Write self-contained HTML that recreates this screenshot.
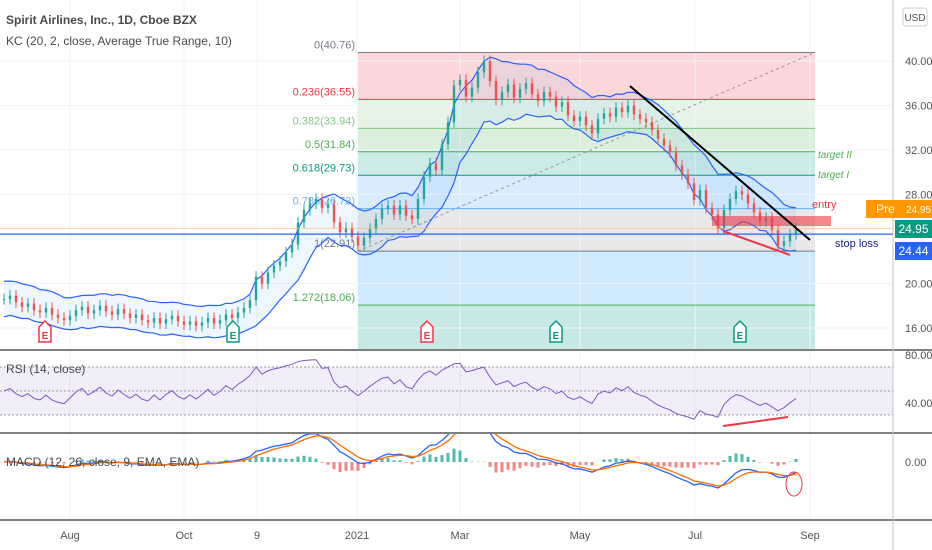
<!DOCTYPE html>
<html><head><meta charset="utf-8"><style>
body{margin:0;background:#fff;font-family:"Liberation Sans",sans-serif;}
svg{display:block}
</style></head><body>
<svg id="c" width="932" height="550" viewBox="0 0 932 550" font-family="Liberation Sans, sans-serif"></svg>
<script>
const closes=[18.6,18.9,18.3,17.9,18.2,17.6,17.4,17.8,17.2,16.9,
16.7,17.1,17.6,17.9,17.3,17.6,18.0,17.5,17.2,17.7,
17.3,16.9,17.2,16.7,16.5,16.9,16.4,16.8,17.1,16.6,
16.3,16.6,16.2,16.5,16.9,16.4,16.7,17.2,16.9,17.4,
17.8,18.5,20.6,20.0,21.0,21.6,22.0,22.8,23.5,25.5,
26.6,27.2,27.6,26.8,27.1,25.5,24.6,25.0,24.2,23.4,
24.1,24.9,25.8,26.7,27.0,26.2,27.0,26.1,25.8,27.6,
29.6,30.8,30.2,32.5,34.5,37.8,38.3,36.8,37.6,39.0,
40.0,38.2,36.5,37.2,37.9,36.7,37.5,38.0,37.0,36.4,
37.2,36.8,35.9,36.3,35.1,34.6,35.0,34.2,33.5,34.8,
35.3,35.0,35.8,35.4,36.0,35.2,34.8,34.5,33.8,33.0,
32.4,31.8,30.6,29.8,29.0,27.5,28.4,26.8,26.2,24.9,
26.6,27.6,28.3,28.0,27.2,26.4,25.6,25.9,24.8,23.4,
23.8,24.4,24.95];
const priceTicks=[40,36,32,28,20,16];
const fibLevels=[0,0.236,0.382,0.5,0.618,0.786,1,1.272];
const fibPrices=[40.76,36.55,33.94,31.84,29.73,26.73,22.91,18.06];
const monthLabels=["Aug","Oct","9","2021","Mar","May","Jul","Sep"];
const monthX=[70,184,257,357,460,580,695,810];
const rsiTicks=[80,40];

const S=document.getElementById('c');const NS='http://www.w3.org/2000/svg';
function el(t,a,p){const e=document.createElementNS(NS,t);for(const k in a)e.setAttribute(k,a[k]);(p||S).appendChild(e);return e;}
function tx(x,y,s,a,name){const e=el('text',Object.assign({x:x,y:y},a));e.textContent=s;return e;}
const AX=893;
const py=p=>61+(40-p)*11.125;
const xi=i=>4+i*6;
const ry=v=>355+(80-v)*1.2;
const my=v=>462-v*13;
const defs=el('defs',{});
const cp=el('clipPath',{id:'mc'},defs);el('rect',{x:0,y:434,width:AX,height:85},cp);
const cp2=el('clipPath',{id:'pc'},defs);el('rect',{x:0,y:0,width:AX,height:349},cp2);

const fibFill=['rgba(242,54,69,0.2)','rgba(129,199,132,0.2)','rgba(76,175,80,0.2)','rgba(0,150,136,0.2)','rgba(100,181,246,0.25)','rgba(180,180,180,0.3)','rgba(100,181,246,0.3)','rgba(0,150,136,0.22)'];
const fibCol=['#787b86','#f23645','#81c784','#4caf50','#089981','#64b5f6','#787b86','#4caf50'];
const FX0=358,FX1=815;
for(let i=0;i<fibLevels.length;i++){
  const y0=py(fibPrices[i]);const y1=i<fibLevels.length-1?py(fibPrices[i+1]):349;
  const r=el('rect',{x:FX0,y:y0,width:FX1-FX0,height:y1-y0,fill:fibFill[i]});
  
}
priceTicks.concat([24]).forEach(p=>{const l=el('line',{x1:0,x2:AX,y1:py(p),y2:py(p),stroke:'#f0f3fa'});});
monthX.forEach(x=>{const l=el('line',{x1:x,x2:x,y1:0,y2:520,stroke:'#f0f3fa'});});
for(let i=0;i<fibLevels.length;i++){
  const y=py(fibPrices[i]);
  const l=el('line',{x1:FX0,x2:FX1,y1:y,y2:y,stroke:fibCol[i],'stroke-width':1});
  
  tx(355,y-4,fibLevels[i]+'('+fibPrices[i].toFixed(2)+')',{'font-size':11,fill:fibCol[i],'text-anchor':'end'},'fib-label');
}
{const l=el('line',{x1:FX0,y1:py(22.91),x2:FX1,y2:py(40.76),stroke:'#9598a1','stroke-dasharray':'3 3'});}

function ema(a,n){const k=2/(n+1);const o=[a[0]];for(let i=1;i<a.length;i++)o.push(a[i]*k+o[i-1]*(1-k));return o;}
const mid=ema(closes,7);
const tr=closes.map((c,i)=>i?Math.abs(c-closes[i-1]):0.5);
const atr=ema(tr,8);
const up=mid.map((m,i)=>m+0.9+1.4*atr[i]),lo=mid.map((m,i)=>m-0.9-1.4*atr[i]);
let fp='M'+up.map((v,i)=>xi(i)+','+py(v)).join('L')+'L'+lo.map((v,i)=>xi(i)+','+py(v)).reverse().join('L')+'Z';
{const e=el('path',{d:fp,fill:'rgba(33,150,243,0.08)','clip-path':'url(#pc)'});}
[[up,'kc-upper'],[lo,'kc-lower']].forEach(([a,n])=>{const e=el('path',{d:'M'+a.map((v,i)=>xi(i)+','+py(v)).join('L'),fill:'none',stroke:'#2962ff','stroke-width':1.2,'clip-path':'url(#pc)'});});

closes.forEach((c,i)=>{const o=i?closes[i-1]:c;const g=el('g',{});
 const col=c>=o?'#26a69a':'#ef5350';const x=xi(i);
 el('line',{x1:x,x2:x,y1:py(Math.max(o,c)+0.5),y2:py(Math.min(o,c)-0.5),stroke:col},g);
 el('rect',{x:x-1.2,y:py(Math.max(o,c)),width:2.4,height:Math.max(1,Math.abs(py(o)-py(c))),fill:col},g);});

{let l=el('line',{x1:0,x2:AX,y1:py(24.95),y2:py(24.95),stroke:'#ffb74d','stroke-opacity':0.6});
 l=el('line',{x1:0,x2:AX,y1:py(24.44),y2:py(24.44),stroke:'#2962ff','stroke-width':1.2});}
{let r=el('rect',{x:712,y:216,width:119,height:10,fill:'rgba(242,54,69,0.6)'});
 let l=el('line',{x1:630,y1:86,x2:810,y2:240,stroke:'#000','stroke-width':2});
 l=el('line',{x1:723,y1:231,x2:790,y2:255,stroke:'#f23645','stroke-width':2});}
tx(812,208,'entry',{'font-size':11,fill:'#f23645'},'entry-label');
tx(818,158,'target II',{'font-size':10,fill:'#4caf50','font-style':'italic'},'target-2-label');
tx(818,178,'target I',{'font-size':10,fill:'#4caf50','font-style':'italic'},'target-1-label');
tx(835,247,'stop loss',{'font-size':11,fill:'#1a237e'},'stop-loss-label');
[[45,'#f23645'],[233,'#089981'],[427,'#f23645'],[556,'#089981'],[740,'#089981']].forEach(([x,c])=>{const g=el('g',{});
 el('path',{d:`M${x-6},${327}L${x},${321}L${x+6},${327}L${x+6},${342}L${x-6},${342}Z`,fill:'#fff',stroke:c,'stroke-width':1.5},g);
 const t=el('text',{x:x,y:339,'font-size':10,'font-weight':'bold',fill:c,'text-anchor':'middle'},g);t.textContent='E';});
tx(6,24,'Spirit Airlines, Inc., 1D, Cboe BZX',{'font-size':12,'font-weight':'bold',fill:'#4a4a4a'},'chart-title');
tx(6,45,'KC (20, 2, close, Average True Range, 10)',{'font-size':12,fill:'#4a4a4a'},'kc-legend');

{const r=el('rect',{x:0,y:ry(70),width:AX,height:ry(30)-ry(70),fill:'rgba(126,87,194,0.1)'});
 [70,50,30].forEach(v=>{const l=el('line',{x1:0,x2:AX,y1:ry(v),y2:ry(v),stroke:'#9598a1','stroke-dasharray':'2 2'});});}
let ag=0.3,al=0.3;const rsi=closes.map((c,i)=>{if(!i)return 50;const d=c-closes[i-1];ag=(ag*7+Math.max(d,0))/8;al=(al*7+Math.max(-d,0))/8;return 100-100/(1+ag/al);});
{const e=el('path',{d:'M'+rsi.map((v,i)=>xi(i)+','+ry(50+(v-50)*0.6)).join('L'),fill:'none',stroke:'#7e57c2','stroke-width':1});
 const l=el('line',{x1:723,y1:426,x2:788,y2:417,stroke:'#f23645','stroke-width':2});}
tx(6,373,'RSI (14, close)',{'font-size':12,fill:'#4a4a4a'},'rsi-legend');

const e1=ema(closes,5),e2=ema(closes,11);const macd=e1.map((v,i)=>v-e2[i]);const sig=ema(macd,4);
macd.forEach((m,i)=>{const h=m-sig[i];const r=el('rect',{x:xi(i)-1.5,y:Math.min(my(0),my(h*1.5)),width:3,height:Math.abs(my(h*1.5)-my(0)),fill:h>=0?'rgba(38,166,154,0.8)':'rgba(239,83,80,0.7)','clip-path':'url(#mc)'});});
{let e=el('path',{d:'M'+macd.map((v,i)=>xi(i)+','+my(v)).join('L'),fill:'none',stroke:'#2962ff','stroke-width':1.3,'clip-path':'url(#mc)'});
 e=el('path',{d:'M'+sig.map((v,i)=>xi(i)+','+my(v)).join('L'),fill:'none',stroke:'#ff6d00','stroke-width':1.3,'clip-path':'url(#mc)'});
 e=el('ellipse',{cx:794,cy:484,rx:8,ry:12,fill:'none',stroke:'#f23645'});}
tx(6,466,'MACD (12, 26, close, 9, EMA, EMA)',{'font-size':12,fill:'#4a4a4a'},'macd-legend');

[350,433,520].forEach(y=>{const l=el('line',{x1:0,x2:932,y1:y,y2:y,stroke:'#555','stroke-width':1.5});});
{const l=el('line',{x1:AX,x2:AX,y1:0,y2:550,stroke:'#c0c3cc'});}
priceTicks.forEach(p=>{tx(905,py(p)+4,p.toFixed(2),{'font-size':11,fill:'#555'},'price-tick');});
rsiTicks.forEach(v=>tx(905,ry(v)+4,v.toFixed(2),{'font-size':11,fill:'#555'},'rsi-tick'));
tx(905,my(0)+4,'0.00',{'font-size':11,fill:'#555'},'macd-tick');
monthLabels.forEach((m,i)=>tx(monthX[i],539,m,{'font-size':11,fill:'#555','text-anchor':'middle'},'time-tick'));
{let r=el('rect',{x:903,y:8,width:24,height:18,rx:3,fill:'#fff',stroke:'#ccc'});}
tx(915,21,'USD',{'font-size':10,fill:'#555','text-anchor':'middle'},'currency-label');
[[866,200,39,'#ff9800','Pre','pre-label'],[905,200,27,'#ff9800','24.95','pre-price-label'],[895,220,37,'#089981','24.95','last-price-label'],[895,242,37,'#2962ff','24.44','stop-price-label']].forEach(([x,y,w,c,t,n])=>{
 const r=el('rect',{x:x,y:y,width:w,height:18,fill:c});
 tx(x+w/2,y+13,t,{'font-size':n=='pre-price-label'?10:12,fill:'#fff','text-anchor':'middle'},n);});
</script>
</body></html>
